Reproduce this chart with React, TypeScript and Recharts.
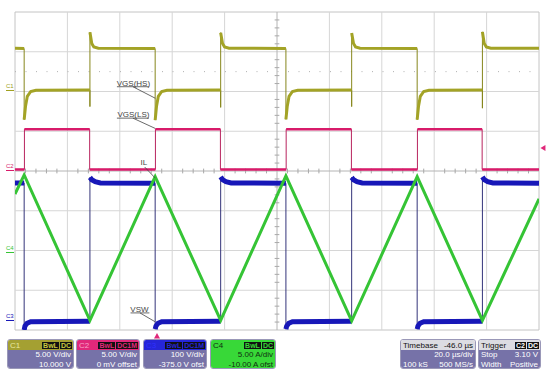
import React from "react";
import { ComposedChart, Line, XAxis, YAxis, ReferenceLine, ReferenceArea, ReferenceDot } from "recharts";

type Pt = [number, number];

// x: time in µs (20 µs/div, 10 div); y: level in divisions from screen centre (±4 div)
const c1Trace: Pt[] = [
  [0, 3.09], [3.5, 3.08], [3.5, 1.29], [4.0, 1.62], [4.7, 1.88], [6.0, 2.0], [8.0, 2.03],
  [28.6, 2.04], [28.6, 1.62], [28.6, 3.49], [29.3, 3.21], [30.1, 3.12], [31.8, 3.09],
  [53.5, 3.08], [53.5, 1.28], [54.0, 1.62], [54.7, 1.88], [56.0, 2.0], [58.0, 2.03],
  [78.5, 2.04], [78.5, 1.6], [78.5, 3.48], [79.2, 3.21], [80.0, 3.12], [81.7, 3.09],
  [103.4, 3.08], [103.4, 1.3], [103.9, 1.62], [104.6, 1.88], [105.9, 2.0], [107.9, 2.03],
  [128.5, 2.04], [128.5, 1.62], [128.5, 3.47], [129.2, 3.21], [130.0, 3.12], [131.7, 3.09],
  [153.5, 3.08], [153.5, 1.29], [154.0, 1.62], [154.7, 1.88], [156.0, 2.0], [158.0, 2.03],
  [178.4, 2.04], [178.4, 1.58], [178.4, 3.5], [179.1, 3.21], [179.9, 3.12], [181.6, 3.09],
  [200, 3.09],
];

const c2Trace: Pt[] = [
  [0, 0.04], [3.6, 0.04], [3.6, 1.05], [28.5, 1.05], [28.5, 0.04],
  [53.6, 0.04], [53.6, 1.05], [78.4, 1.05], [78.4, 0.04],
  [103.5, 0.04], [103.5, 1.05], [128.4, 1.05], [128.4, 0.04],
  [153.6, 0.04], [153.6, 1.05], [178.3, 1.05], [178.3, 0.04],
  [200, 0.04],
];

const c3Trace: Pt[] = [
  [0, -0.3], [3.5, -0.3], [3.5, -4.0], [3.8, -3.9], [4.6, -3.83], [6.0, -3.79],
  [28.6, -3.78], [28.6, -0.16], [29.3, -0.22], [30.6, -0.27], [32.6, -0.3],
  [53.5, -0.31], [53.5, -3.98], [53.8, -3.9], [54.6, -3.83], [56.0, -3.79],
  [78.5, -3.78], [78.5, -0.15], [79.2, -0.22], [80.5, -0.27], [82.5, -0.3],
  [103.4, -0.31], [103.4, -3.98], [103.7, -3.9], [104.5, -3.83], [105.9, -3.79],
  [128.5, -3.78], [128.5, -0.16], [129.2, -0.22], [130.5, -0.27], [132.5, -0.3],
  [153.5, -0.31], [153.5, -3.98], [153.8, -3.9], [154.6, -3.83], [156.0, -3.79],
  [178.4, -3.78], [178.4, -0.15], [179.1, -0.22], [180.4, -0.27], [182.4, -0.3],
  [200, -0.31],
];

const c4Trace: Pt[] = [
  [0, -0.58], [3.5, -0.1], [28.6, -3.76], [53.5, -0.14], [78.5, -3.76],
  [103.4, -0.12], [128.5, -3.77], [153.5, -0.14], [178.4, -3.76], [200, -0.7],
];

const gridT = [20, 40, 60, 80, 120, 140, 160, 180];
const gridV = [-3, -2, -1, 1, 2, 3];
const dottedLevel = 2.5;
const triggerTime = 54.2;
const triggerLevel = 0.58;

const notes = [
  { text: "VGS(HS)", x: 45.2, y: 2.22, under: [38.9, 51.1, 2.12], lead: [45.0, 2.12, 53.55, 1.83] },
  { text: "VGS(LS)", x: 45.2, y: 1.43, under: [38.9, 51.1, 1.33], lead: [45.0, 1.33, 53.55, 1.07] },
  { text: "IL", x: 49.2, y: 0.22, under: null, lead: [49.5, 0.1, 53.55, -0.18] },
  { text: "VSW", x: 47.5, y: -3.47, under: [44.1, 51.3, -3.57], lead: [47.7, -3.57, 53.4, -3.79] },
];

const chanLabels = [
  { text: "C1", color: "#a0a020", top: 83 },
  { text: "C2", color: "#d81b6a", top: 163 },
  { text: "C4", color: "#35c435", top: 245 },
  { text: "C3", color: "#1717b8", top: 313 },
];

const chanBoxes = [
  { name: "C1", left: 7, width: 67, head: "#a4a032", nameColor: "#e8e8a0", badges: ["BwL", "DC"], badgeColor: "#c8c840", body: "#7672a8", text: "#fff", rows: ["5.00 V/div", "10.000 V"] },
  { name: "C2", left: 76, width: 64, head: "#e0287a", nameColor: "#f8a0c8", badges: ["BwL", "DC1M"], badgeColor: "#e0287a", body: "#7672a8", text: "#fff", rows: ["5.00 V/div", "0 mV offset"] },
  { name: "C3", left: 143, width: 64, head: "#2626d8", nameColor: "#3030ff", badges: ["BwL", "DC1M"], badgeColor: "#2626d8", body: "#7672a8", text: "#fff", rows: ["100 V/div", "-375.0 V ofst"] },
  { name: "C4", left: 210, width: 66, head: "#38d838", nameColor: "#103010", badges: ["BwL", "DC"], badgeColor: "#38d838", body: "#38d838", text: "#103010", rows: ["5.00 A/div", "-10.00 A ofst"] },
];

const timebaseRows: [string, string][] = [["", "20.0 µs/div"], ["100 kS", "500 MS/s"]];
const triggerRows: [string, string][] = [["Stop", "3.10 V"], ["Width", "Positive"]];

const rows = (tr: Pt[]) => tr.map(([t, v]) => ({ t, v }));
// same trace with the vertical edges cut out, for the thick noisy band
const flats = (tr: Pt[]) => {
  const out: { t: number; v: number | null }[] = [];
  tr.forEach(([t, v], i) => {
    if (i > 0 && tr[i - 1][0] === t) out.push({ t, v: null });
    out.push({ t, v });
  });
  return out;
};

const minorT = Array.from({ length: 49 }, (_, i) => (i + 1) * 4).filter((t) => t % 20 !== 0);
const minorV = Array.from({ length: 39 }, (_, i) => Math.round((-3.8 + i * 0.2) * 10) / 10).filter((v) => v % 1 !== 0);

const font = "'Liberation Sans', Arial, sans-serif";

function Badge({ children, color }: { children: React.ReactNode; color: string }) {
  return (
    <span style={{ background: "#111", color, padding: "0 1px", marginLeft: 1, fontSize: 7, lineHeight: "8px", fontWeight: "bold" }}>
      {children}
    </span>
  );
}

function Box({ left, width, head, children }: { left: number; width: number; head: React.ReactNode; children: React.ReactNode }) {
  return (
    <div style={{ position: "absolute", left, top: 339, width, height: 30, borderRadius: 3, overflow: "hidden", border: "1px solid #9a98b8", boxSizing: "border-box" }}>
      {head}
      {children}
    </div>
  );
}

export default function App() {
  return (
    <div style={{ position: "absolute", left: 0, top: 0, width: 555, height: 379, background: "#fff", fontFamily: font }}>
      <ComposedChart width={555} height={379} margin={{ top: 12, right: 16, bottom: 49, left: 15 }}>
        <XAxis dataKey="t" type="number" domain={[0, 200]} hide allowDataOverflow />
        <YAxis type="number" domain={[-4, 4]} hide allowDataOverflow />
        <ReferenceArea x1={0} x2={200} y1={-4} y2={4} fill="none" stroke="#c4c4c4" strokeWidth={1} />
        {gridT.map((t) => (
          <ReferenceLine key={"gx" + t} x={t} stroke="#d6d6d6" />
        ))}
        {gridV.map((v) => (
          <ReferenceLine key={"gy" + v} y={v} stroke="#d6d6d6" />
        ))}
        <ReferenceLine y={dottedLevel} stroke="#b0b0b0" strokeDasharray="1 9.5" />
        <ReferenceLine x={100} stroke="#b4b4b4" />
        <ReferenceLine y={0} stroke="#b4b4b4" />
        {minorT.map((t) => (
          <ReferenceLine key={"mt" + t} segment={[{ x: t, y: -0.06 }, { x: t, y: 0.06 }]} stroke="#a8a8a8" />
        ))}
        {minorV.map((v) => (
          <ReferenceLine key={"mv" + v} segment={[{ x: 99.1, y: v }, { x: 100.9, y: v }]} stroke="#a8a8a8" />
        ))}

        <Line data={rows(c1Trace)} dataKey="v" type="linear" stroke="#86861c" strokeWidth={1} dot={false} activeDot={false} isAnimationActive={false} />
        <Line data={flats(c1Trace)} dataKey="v" type="linear" stroke="#a3a326" strokeWidth={3} dot={false} activeDot={false} isAnimationActive={false} />
        <Line data={rows(c2Trace)} dataKey="v" type="linear" stroke="#b8245e" strokeWidth={1} dot={false} activeDot={false} isAnimationActive={false} />
        <Line data={flats(c2Trace)} dataKey="v" type="linear" stroke="#d81b6a" strokeWidth={2.5} dot={false} activeDot={false} isAnimationActive={false} />
        <Line data={rows(c3Trace)} dataKey="v" type="linear" stroke="#34347a" strokeWidth={1} dot={false} activeDot={false} isAnimationActive={false} />
        <Line data={flats(c3Trace)} dataKey="v" type="linear" stroke="#1717b8" strokeWidth={5} dot={false} activeDot={false} isAnimationActive={false} />
        <Line data={rows(c4Trace)} dataKey="v" type="linear" stroke="#35c435" strokeWidth={3} dot={false} activeDot={false} isAnimationActive={false} />

        {notes.map((n) => (
          <ReferenceLine key={"ld" + n.text} segment={[{ x: n.lead[0], y: n.lead[1] }, { x: n.lead[2], y: n.lead[3] }]} stroke="#444" strokeWidth={0.8} />
        ))}
        {notes.filter((n) => n.under).map((n) => (
          <ReferenceLine key={"ul" + n.text} segment={[{ x: n.under![0], y: n.under![2] }, { x: n.under![1], y: n.under![2] }]} stroke="#444" strokeWidth={0.8} />
        ))}
        {notes.map((n) => (
          <ReferenceDot
            key={"tx" + n.text}
            x={n.x}
            y={n.y}
            r={0}
            shape={(p: any) => (
              <text x={p.cx} y={p.cy} dy={3} textAnchor="middle" fontSize={8} fill="#444" fontFamily={font}>
                {n.text}
              </text>
            )}
          />
        ))}
        <ReferenceDot
          x={201.5}
          y={triggerLevel}
          r={0}
          ifOverflow="visible"
          shape={(p: any) => <polygon points={`${p.cx - 2.5},${p.cy} ${p.cx + 2.5},${p.cy - 3} ${p.cx + 2.5},${p.cy + 3}`} fill="#e0287a" />}
        />
        <ReferenceDot
          x={triggerTime}
          y={-4.15}
          r={0}
          ifOverflow="visible"
          shape={(p: any) => <polygon points={`${p.cx},${p.cy - 3} ${p.cx - 3},${p.cy + 2.5} ${p.cx + 3},${p.cy + 2.5}`} fill="#e0287a" />}
        />
      </ComposedChart>

      {chanLabels.map((c) => (
        <span key={c.text} style={{ position: "absolute", left: 6, top: c.top, fontSize: 6, lineHeight: "7px", color: c.color, borderBottom: `1px solid ${c.color}` }}>
          {c.text}
        </span>
      ))}

      {chanBoxes.map((b) => (
        <Box
          key={b.name}
          left={b.left}
          width={b.width}
          head={
            <div style={{ background: b.head, height: 10, display: "flex", alignItems: "center", justifyContent: "space-between", padding: "0 1px 0 2px", fontSize: 8, color: b.nameColor }}>
              <span>{b.name}</span>
              <span>
                {b.badges.map((g) => (
                  <Badge key={g} color={b.badgeColor}>{g}</Badge>
                ))}
              </span>
            </div>
          }
        >
          <div style={{ background: b.body, height: 20, color: b.text, fontSize: 8, lineHeight: "10px", textAlign: "right", paddingRight: 2 }}>
            {b.rows.map((r) => (
              <div key={r}>{r}</div>
            ))}
          </div>
        </Box>
      ))}

      <Box
        left={400}
        width={76}
        head={
          <div style={{ background: "#dcdce2", height: 10, display: "flex", justifyContent: "space-between", alignItems: "center", padding: "0 2px", fontSize: 8, color: "#111" }}>
            <span>Timebase</span>
            <span>-46.0 µs</span>
          </div>
        }
      >
        <div style={{ background: "#7672a8", height: 20, color: "#fff", fontSize: 8, lineHeight: "10px", padding: "0 2px" }}>
          {timebaseRows.map(([l, r]) => (
            <div key={r} style={{ display: "flex", justifyContent: "space-between" }}>
              <span>{l}</span>
              <span>{r}</span>
            </div>
          ))}
        </div>
      </Box>

      <Box
        left={478}
        width={63}
        head={
          <div style={{ background: "#dcdce2", height: 10, display: "flex", justifyContent: "space-between", alignItems: "center", padding: "0 1px 0 2px", fontSize: 8, color: "#111" }}>
            <span>Trigger</span>
            <span>
              <Badge color="#fff">C2</Badge>
              <Badge color="#fff">DC</Badge>
            </span>
          </div>
        }
      >
        <div style={{ background: "#7672a8", height: 20, color: "#fff", fontSize: 8, lineHeight: "10px", padding: "0 2px" }}>
          {triggerRows.map(([l, r]) => (
            <div key={r} style={{ display: "flex", justifyContent: "space-between" }}>
              <span>{l}</span>
              <span>{r}</span>
            </div>
          ))}
        </div>
      </Box>
    </div>
  );
}
